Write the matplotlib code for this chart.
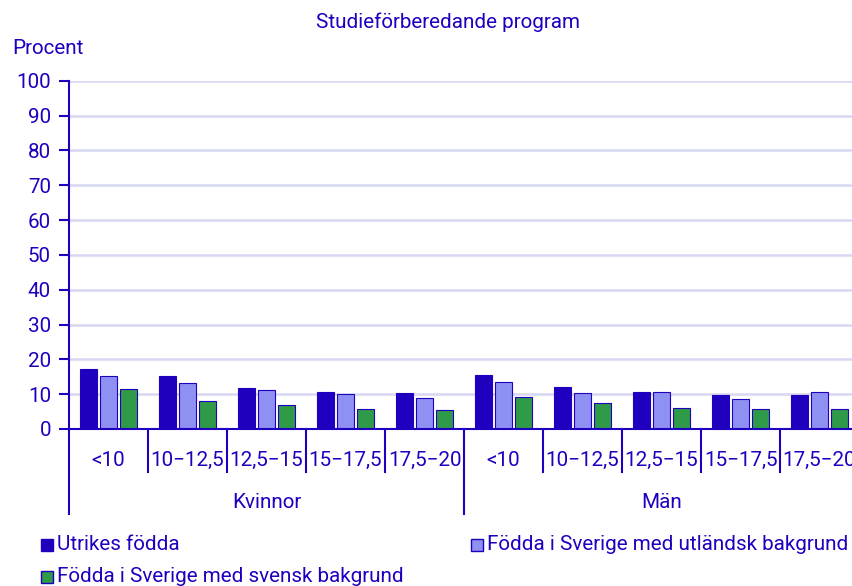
import matplotlib
matplotlib.use("Agg")
import matplotlib.pyplot as plt
from matplotlib.patches import Rectangle
from matplotlib.lines import Line2D
import numpy as np

plt.rcParams['font.family'] = ['Roboto', 'DejaVu Sans']

categories = ["<10", "10\u221212,5", "12,5\u221215", "15\u221217,5", "17,5\u221220",
              "<10", "10\u221212,5", "12,5\u221215", "15\u221217,5", "17,5\u221220"]
groups = ["Kvinnor", "Män"]
utrikes = [17.2, 15.3, 11.9, 10.6, 10.2, 15.5, 12.2, 10.6, 9.9, 9.8]
utlandsk = [15.1, 13.2, 11.2, 10.0, 9.0, 13.4, 10.4, 10.5, 8.7, 10.6]
svensk = [11.5, 8.0, 6.8, 5.7, 5.5, 9.2, 7.4, 6.1, 5.8, 5.6]
series_names = ["Utrikes födda", "Födda i Sverige med utländsk bakgrund",
                "Födda i Sverige med svensk bakgrund"]

TXT = '#1e00be'
C_DARK = '#1e00be'
C_LIGHT = '#8f91f2'
C_GREEN = '#2f9a48'
GRID = '#d8d8f4'
FS = 14.9

W, H = 853, 586
fig = plt.figure(figsize=(W / 100, H / 100), dpi=100)
left_px, right_px, top_px, bot_px = 69, 859, 80.7, 429
ax = fig.add_axes([left_px / W, 1 - bot_px / H, (right_px - left_px) / W, (bot_px - top_px) / H])
ax_h = bot_px - top_px

x = np.arange(len(categories))
bw = 0.215
step = 0.253
ax.bar(x - step, utrikes, bw, color=C_DARK, edgecolor=C_DARK, linewidth=0.8, zorder=3, label=series_names[0])
ax.bar(x, utlandsk, bw, color=C_LIGHT, edgecolor=C_DARK, linewidth=0.8, zorder=3, label=series_names[1])
ax.bar(x + step, svensk, bw, color=C_GREEN, edgecolor=C_DARK, linewidth=0.8, zorder=3, label=series_names[2])

ax.set_xlim(-0.5, len(categories) - 0.5)
ax.set_ylim(0, 100)
ax.set_yticks(np.arange(0, 101, 10))
ax.yaxis.grid(True, color=GRID, linewidth=1.8, zorder=0)
ax.set_axisbelow(True)
ax.tick_params(axis='y', colors=TXT, labelcolor=TXT, labelsize=FS, length=7, width=1.5, pad=6)
ax.set_xticks([])
for s in ['top', 'right', 'left']:
    ax.spines[s].set_visible(False)
ax.spines['bottom'].set_color(TXT)
ax.spines['bottom'].set_linewidth(1.5)
ax.spines['bottom'].set_zorder(4)

trans = ax.get_xaxis_transform()
# y axis line extended down
ax.add_line(Line2D([-0.5, -0.5], [1, -85 / ax_h], transform=trans, color=TXT, lw=1.5, clip_on=False, zorder=5))
# separators
for i in range(1, len(categories)):
    b = i - 0.5
    low = -85 / ax_h if i == 5 else -43 / ax_h
    ax.add_line(Line2D([b, b], [0, low], transform=trans, color=TXT, lw=1.5, clip_on=False, zorder=5))
# category labels
for xi, lab in zip(x, categories):
    ax.text(xi, -31 / ax_h, lab, transform=trans, ha='center', va='center', color=TXT, fontsize=FS)
# group labels
for gi, g in enumerate(groups):
    ax.text(gi * 5 + 2, -73 / ax_h, g, transform=trans, ha='center', va='center', color=TXT, fontsize=FS)

fig.text(448 / W, 1 - 22 / H, "Studieförberedande program", ha='center', va='center', color=TXT, fontsize=FS)
fig.text(12 / W, 1 - 48 / H, "Procent", ha='left', va='center', color=TXT, fontsize=FS)

# legend
colors = [C_DARK, C_LIGHT, C_GREEN]
pos = [(41, 545), (471, 545), (41, 577)]
for (px, py), c, name in zip(pos, colors, series_names):
    fig.patches.append(Rectangle((px / W, 1 - (py + 6) / H), 12 / W, 12 / H, transform=fig.transFigure,
                                 facecolor=c, edgecolor=C_DARK, linewidth=1))
    fig.text((px + 16) / W, 1 - py / H, name, ha='left', va='center', color=TXT, fontsize=FS)

fig.savefig("out.png", dpi=100)
